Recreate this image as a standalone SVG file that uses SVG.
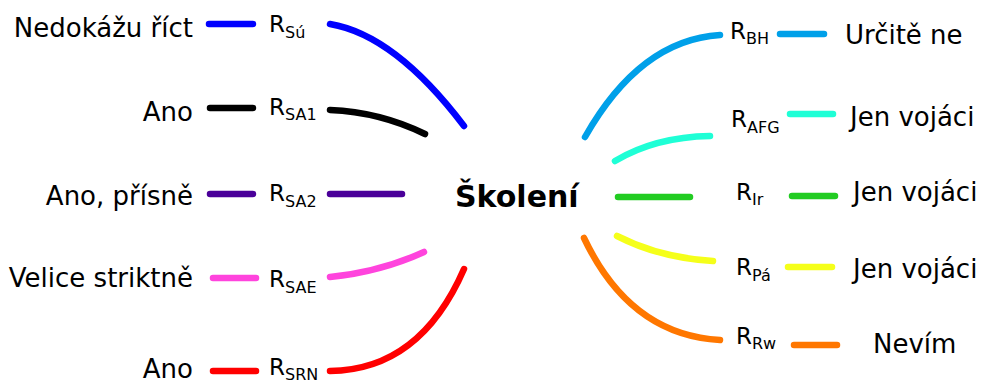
<svg xmlns="http://www.w3.org/2000/svg" width="984" height="383" viewBox="0 0 984 383">
<style>
text{font-family:"DejaVu Sans",Verdana,sans-serif;fill:#000}
.t{font-size:26px}
.r{font-size:23px}
.s{font-size:16px}
.c{font-size:30px;font-weight:bold}
.l{fill:none;stroke-width:6.5;stroke-linecap:round}
</style>
<rect width="984" height="383" fill="#fff"/>
<g id="center"><text class="c" x="455" y="207">Školení</text></g>
<g id="connectors">
<path class="l" stroke="#0000ff" d="M330,24 Q395,35 464,126"/>
<path class="l" stroke="#000000" d="M330,110 Q380,112 425,134"/>
<path class="l" stroke="#4a0099" d="M330,194 L402,194"/>
<path class="l" stroke="#ff44dd" d="M330,277 Q380,272 424,252"/>
<path class="l" stroke="#ff0000" d="M330,371 Q420,370 464,269"/>
<path class="l" stroke="#00a0e9" d="M585,137 Q640,40 720,35"/>
<path class="l" stroke="#1fffd6" d="M615,161 Q655,137 710,136"/>
<path class="l" stroke="#22cc22" d="M618,197 L690,197"/>
<path class="l" stroke="#f5ff1a" d="M617,236 Q660,258 713,261"/>
<path class="l" stroke="#ff7700" d="M584,238 Q630,335 720,340"/>
<path class="l" stroke="#0000ff" d="M209,24 L253,24"/>
<path class="l" stroke="#000000" d="M210,108 L253,108"/>
<path class="l" stroke="#4a0099" d="M210,194 L253,194"/>
<path class="l" stroke="#ff44dd" d="M213,278 L256,278"/>
<path class="l" stroke="#ff0000" d="M213,371 L256,371"/>
<path class="l" stroke="#00a0e9" d="M780,34 L824,34"/>
<path class="l" stroke="#1fffd6" d="M790,114 L833,114"/>
<path class="l" stroke="#22cc22" d="M792,196 L835,196"/>
<path class="l" stroke="#f5ff1a" d="M788,267 L832,267"/>
<path class="l" stroke="#ff7700" d="M794,345 L837,345"/>
</g>
<g id="a-su"><text class="t" x="193" y="37" text-anchor="end">Nedokážu říct</text></g>
<g id="r-su"><text class="r" x="269" y="32">R<tspan class="s" dy="6">Sú</tspan></text></g>
<g id="a-sa1"><text class="t" x="193" y="121" text-anchor="end" font-size="25">Ano</text></g>
<g id="r-sa1"><text class="r" x="269" y="115">R<tspan class="s" dy="5">SA1</tspan></text></g>
<g id="a-sa2"><text class="t" x="193" y="205" text-anchor="end">Ano, přísně</text></g>
<g id="r-sa2"><text class="r" x="269" y="201">R<tspan class="s" dy="6">SA2</tspan></text></g>
<g id="a-sae"><text class="t" x="193" y="287" text-anchor="end" font-size="25.5">Velice striktně</text></g>
<g id="r-sae"><text class="r" x="269" y="287">R<tspan class="s" dy="6">SAE</tspan></text></g>
<g id="a-srn"><text class="t" x="193" y="378" text-anchor="end" font-size="25">Ano</text></g>
<g id="r-srn"><text class="r" x="269" y="375">R<tspan class="s" dy="5">SRN</tspan></text></g>
<g id="r-bh"><text class="r" x="730" y="39">R<tspan class="s" dy="5">BH</tspan></text></g>
<g id="a-bh"><text class="t" x="845" y="44" font-size="25">Určitě ne</text></g>
<g id="r-afg"><text class="r" x="731" y="127">R<tspan class="s" dy="6">AFG</tspan></text></g>
<g id="a-afg"><text class="t" x="850" y="126" font-size="26.5">Jen vojáci</text></g>
<g id="r-ir"><text class="r" x="736" y="200">R<tspan class="s" dy="5">Ir</tspan></text></g>
<g id="a-ir"><text class="t" x="853" y="201" font-size="26.5">Jen vojáci</text></g>
<g id="r-pa"><text class="r" x="736" y="275">R<tspan class="s" dy="6">Pá</tspan></text></g>
<g id="a-pa"><text class="t" x="853" y="278" font-size="26.5">Jen vojáci</text></g>
<g id="r-rw"><text class="r" x="736" y="344">R<tspan class="s" dy="5">Rw</tspan></text></g>
<g id="a-rw"><text class="t" x="873" y="353" font-size="25">Nevím</text></g>
</svg>
